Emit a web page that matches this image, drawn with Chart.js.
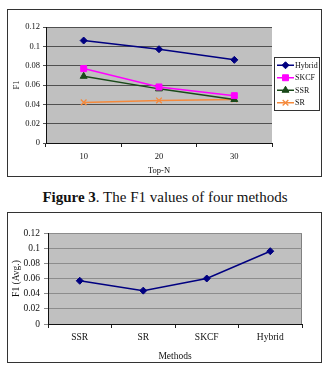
<!DOCTYPE html>
<html>
<head>
<meta charset="utf-8">
<script src="https://cdn.jsdelivr.net/npm/chart.js@4.4.1/dist/chart.umd.min.js"></script>
<style>
  html, body { margin: 0; padding: 0; background: #fff; width: 324px; height: 368px; overflow: hidden; }
  .box { position: absolute; box-sizing: border-box; border: 1px solid #333; background: #fff; }
  #caption { position: absolute; left: 0; width: 330px; top: 187px; text-align: center;
    font-family: "Liberation Serif", "Times New Roman", serif; font-size: 15px; color: #111; line-height: 20px; }
</style>
</head>
<body>
<div class="box" style="left:7px;top:9px;width:315px;height:168px;"><canvas id="c1" width="313" height="166"></canvas></div>
<div id="caption"><b>Figure 3</b>. The F1 values of four methods</div>
<div class="box" style="left:7px;top:212px;width:315px;height:151px;"><canvas id="c2" width="313" height="149"></canvas></div>
<script>
// ---- Data ----
const topN = ['10', '20', '30'];
const hybridF1 = [0.106, 0.097, 0.086];
const skcfF1 = [0.077, 0.058, 0.049];
const ssrF1 = [0.069, 0.056, 0.045];
const srF1 = [0.042, 0.044, 0.045];

const methods = ['SSR', 'SR', 'SKCF', 'Hybrid'];
const avgF1 = [0.057, 0.044, 0.060, 0.096];

const yTicks = [0, 0.02, 0.04, 0.06, 0.08, 0.1, 0.12];

const SERIF = '"Liberation Serif", "Times New Roman", serif';

const plotBg = {
  id: 'plotBg',
  beforeDraw(chart, args, opts) {
    const {ctx, chartArea: a} = chart;
    ctx.save();
    ctx.fillStyle = opts.color || '#c0c0c0';
    ctx.fillRect(a.left, a.top, a.right - a.left, a.bottom - a.top);
    if (opts.border) {
      ctx.strokeStyle = opts.border;
      ctx.lineWidth = 1;
      ctx.strokeRect(a.left + 0.5, a.top + 0.5, a.right - a.left - 1, a.bottom - a.top);
    }
    ctx.restore();
  }
};

const legendBox = {
  id: 'legendBox',
  afterDraw(chart, args, opts) {
    if (!opts.show) return;
    const ctx = chart.ctx;
    const x0 = opts.x, y0 = opts.y, w = opts.w, h = opts.h;
    ctx.save();
    ctx.fillStyle = '#fff';
    ctx.fillRect(x0, y0, w, h);
    ctx.strokeStyle = '#333';
    ctx.lineWidth = 1;
    ctx.strokeRect(x0 + 0.5, y0 + 0.5, w - 1, h - 1);
    const n = chart.data.datasets.length;
    const step = (h - 4) / n;
    chart.data.datasets.forEach((ds, i) => {
      const cy = y0 + 2 + step * (i + 0.5);
      ctx.strokeStyle = ds.borderColor;
      ctx.lineWidth = ds.borderWidth;
      ctx.beginPath();
      ctx.moveTo(x0 + 3, cy);
      ctx.lineTo(x0 + 20, cy);
      ctx.stroke();
      ctx.fillStyle = ds.pointBackgroundColor;
      ctx.strokeStyle = ds.pointBorderColor;
      ctx.lineWidth = ds.pointBorderWidth || 1;
      Chart.helpers.drawPoint(ctx, {pointStyle: ds.pointStyle, radius: ds.pointRadius, borderWidth: ds.pointBorderWidth || 1}, x0 + 11.5, cy);
      ctx.fillStyle = '#111';
      ctx.font = '8px ' + SERIF;
      ctx.textBaseline = 'middle';
      ctx.textAlign = 'left';
      ctx.fillText(ds.label, x0 + 21, cy + 0.5);
    });
    ctx.restore();
  }
};

function mkDs(label, data, color, style, radius, bw) {
  return {
    label, data, borderColor: color, backgroundColor: color,
    pointBackgroundColor: color, pointBorderColor: color, pointBorderWidth: bw || 1,
    pointStyle: style, pointRadius: radius, pointHoverRadius: radius,
    borderWidth: 1.5, tension: 0, fill: false
  };
}

// ---- Chart 1 ----
new Chart(document.getElementById('c1'), {
  type: 'line',
  data: {
    labels: topN,
    datasets: [
      mkDs('Hybrid', hybridF1, '#000080', 'rectRot', 3.5),
      mkDs('SKCF', skcfF1, '#ff00ff', 'rect', 4.2),
      mkDs('SSR', ssrF1, '#1a4a1a', 'triangle', 4),
      mkDs('SR', srF1, '#f58a3c', 'crossRot', 4, 1.3)
    ]
  },
  options: {
    responsive: false, animation: false, devicePixelRatio: 1,
    layout: { padding: { left: 0, right: 49, top: 17, bottom: 0 } },
    plugins: {
      legend: { display: false }, tooltip: { enabled: false },
      plotBg: { color: '#c0c0c0' },
      legendBox: { show: true, x: 266, y: 47, w: 46, h: 54 }
    },
    scales: {
      x: {
        type: 'category', offset: true,
        grid: { display: true, offset: true, drawOnChartArea: false, drawTicks: true, tickLength: 4, color: '#222' },
        border: { display: true, color: '#111', width: 1 },
        ticks: { color: '#111', font: { family: SERIF, size: 8.5 }, padding: 5, maxRotation: 0 },
        title: { display: true, text: 'Top-N', color: '#111', font: { family: SERIF, size: 8.5 }, padding: { top: 1, bottom: 0 } },
        afterFit(s) { s.height = 33; }
      },
      y: {
        min: 0, max: 0.12,
        afterBuildTicks(s) { s.ticks = yTicks.map(v => ({ value: v })); },
        grid: { color: '#505050', lineWidth: 1, tickLength: 3, drawTicks: true },
        border: { display: true, color: '#111', width: 1 },
        ticks: { color: '#111', font: { family: SERIF, size: 8.5 }, padding: 3, callback: v => String(+v.toFixed(2)) },
        title: { display: true, text: 'F1', color: '#111', font: { family: SERIF, size: 8.5 }, padding: { top: 4, bottom: 0 } },
        afterFit(s) { s.width = 38; }
      }
    }
  },
  plugins: [plotBg, legendBox]
});

// ---- Chart 2 ----
new Chart(document.getElementById('c2'), {
  type: 'line',
  data: {
    labels: methods,
    datasets: [ mkDs('F1 (Avg.)', avgF1, '#000080', 'rectRot', 3.5) ]
  },
  options: {
    responsive: false, animation: false, devicePixelRatio: 1,
    layout: { padding: { left: 0, right: 19, top: 20, bottom: 0 } },
    plugins: {
      legend: { display: false }, tooltip: { enabled: false },
      plotBg: { color: '#c0c0c0', border: '#808080' },
      legendBox: { show: false }
    },
    scales: {
      x: {
        type: 'category', offset: true,
        grid: { display: true, offset: true, drawOnChartArea: false, drawTicks: true, tickLength: 4, color: '#222' },
        border: { display: true, color: '#111', width: 1 },
        ticks: { color: '#111', font: { family: SERIF, size: 9.5 }, padding: 4, maxRotation: 0 },
        title: { display: true, text: 'Methods', color: '#111', font: { family: SERIF, size: 9.5 }, padding: { top: 2, bottom: 0 } },
        afterFit(s) { s.height = 38; }
      },
      y: {
        min: 0, max: 0.12,
        afterBuildTicks(s) { s.ticks = yTicks.map(v => ({ value: v })); },
        grid: { color: '#8c8c8c', lineWidth: 1, tickLength: 4, drawTicks: true },
        border: { display: true, color: '#111', width: 1 },
        ticks: { color: '#111', font: { family: SERIF, size: 9.5 }, padding: 4, callback: v => String(+v.toFixed(2)) },
        title: { display: true, text: 'F1 (Avg.)', color: '#111', font: { family: SERIF, size: 9.5 }, padding: { top: 3, bottom: 0 } },
        afterFit(s) { s.width = 40; }
      }
    }
  },
  plugins: [plotBg, legendBox]
});
</script>
</body>
</html>
